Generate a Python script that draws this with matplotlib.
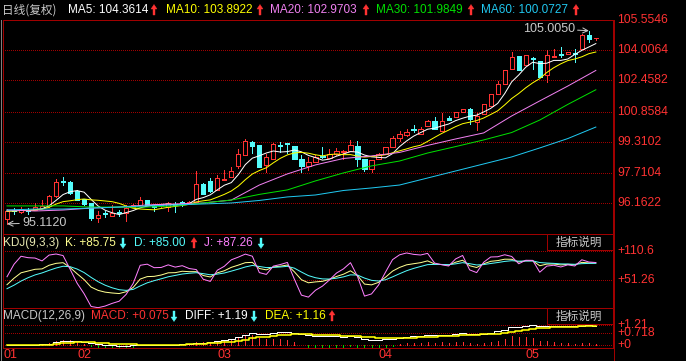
import matplotlib
matplotlib.use('Agg')
import matplotlib.pyplot as plt
import matplotlib.transforms as mtransforms
from matplotlib.patches import Rectangle, Polygon
import numpy as np
import pandas as pd

W, H = 686, 361
RED = '#ff3232'
CYAN = '#54fcfc'
BORDER = '#a00000'
GRID = '#a00000'
GRAY = '#c8c8c8'
PX = 0.72  # 1 pixel in points at dpi 100

# daily candles
opens = [95.36, 95.82, 95.72, 95.82, 95.82, 95.92, 96.03, 96.54, 97.31, 97.26,
         96.79, 96.38, 96.18, 95.41, 95.67, 95.51, 95.72, 95.67, 95.97, 96.08,
         96.33, 96.03, 96.03, 95.97, 96.13, 96.23, 96.13, 96.23, 97.15, 97.31,
         96.85, 97.36, 97.51, 98.08, 98.64, 99.30, 99.15, 98.13, 98.43, 99.15,
         99.25, 99.10, 98.43, 98.08, 98.28, 98.59, 98.49, 98.69, 98.79, 98.84,
         99.10, 98.43, 97.92, 98.43, 98.69, 99.05, 99.51, 99.66, 99.97, 99.71,
         100.12, 100.38, 99.87, 100.53, 100.59, 100.84, 101.00, 100.33, 100.74, 101.15,
         101.76, 102.28, 103.04, 103.71, 103.25, 103.61, 103.45, 102.74, 103.66, 103.81,
         103.81, 103.86, 104.07, 104.79, 104.62]
closes = [95.77, 95.77, 95.87, 95.77, 95.97, 96.03, 96.54, 97.26, 97.26, 96.69,
          96.33, 96.13, 95.41, 95.56, 95.62, 95.67, 95.67, 95.92, 96.08, 96.33,
          96.08, 95.97, 96.08, 96.18, 96.08, 96.18, 96.23, 97.15, 96.64, 96.79,
          97.46, 97.41, 97.82, 98.69, 99.36, 99.10, 98.02, 98.54, 99.20, 99.10,
          99.20, 98.43, 98.08, 98.28, 98.54, 98.54, 98.69, 98.84, 98.84, 99.15,
          98.43, 97.92, 98.38, 98.69, 99.05, 99.51, 99.71, 99.82, 99.92, 99.97,
          100.38, 99.97, 100.38, 100.43, 100.84, 101.00, 100.48, 100.64, 101.25, 101.76,
          102.28, 102.99, 103.66, 102.99, 103.76, 103.56, 102.63, 103.76, 103.71, 103.76,
          103.92, 103.81, 104.79, 104.58, 104.63]
highs = [95.87, 95.92, 95.97, 95.92, 96.18, 96.33, 96.59, 97.41, 97.51, 97.31,
         96.85, 96.38, 96.18, 95.77, 95.77, 96.08, 95.82, 96.08, 96.13, 96.49,
         96.33, 96.08, 96.13, 96.23, 96.23, 96.28, 96.28, 97.82, 97.20, 97.46,
         97.61, 97.87, 98.02, 98.95, 99.46, 99.36, 99.15, 98.69, 99.25, 99.30,
         99.25, 99.10, 98.64, 98.54, 98.64, 99.05, 98.95, 99.00, 98.89, 99.41,
         99.36, 98.43, 98.38, 98.74, 99.05, 99.61, 99.87, 99.97, 100.18, 100.07,
         100.43, 100.59, 100.79, 100.64, 100.84, 101.00, 101.05, 100.79, 101.25, 101.76,
         102.43, 102.99, 103.92, 103.71, 103.76, 103.66, 103.45, 104.02, 104.07, 104.17,
         103.92, 104.07, 104.84, 105.005, 104.63]
lows = [95.112, 95.62, 95.67, 95.62, 95.82, 95.92, 95.97, 96.49, 97.10, 96.64,
        96.33, 96.08, 95.31, 95.21, 95.46, 95.51, 95.51, 95.26, 95.97, 96.08,
        96.08, 95.77, 95.97, 95.77, 95.72, 96.03, 96.13, 96.23, 96.64, 96.74,
        96.85, 97.36, 97.51, 97.97, 98.64, 98.74, 98.02, 97.77, 98.43, 98.79,
        98.74, 98.43, 97.77, 97.87, 98.28, 98.49, 98.49, 98.64, 98.43, 98.84,
        98.08, 97.82, 97.77, 98.43, 98.69, 99.05, 99.36, 99.61, 99.82, 99.71,
        100.12, 99.97, 99.87, 100.43, 100.59, 100.84, 100.23, 99.92, 100.74, 101.15,
        101.76, 102.28, 103.04, 102.99, 103.25, 103.04, 102.63, 102.38, 103.66, 103.66,
        103.81, 103.40, 104.07, 104.43, 104.53]

# long moving averages, read every 4th bar
ma_idx = list(range(0, 85, 4))
ma20 = [95.82, 95.77, 95.82, 95.92, 95.97, 96.08, 96.13, 96.18, 96.33, 97.10, 97.67,
        98.13, 98.46, 98.59, 98.77, 99.13, 99.46, 99.77, 100.64, 101.41, 102.17, 102.97]
ma30 = [96.03, 96.03, 96.03, 95.97, 95.97, 95.97, 96.03, 96.18, 96.33, 96.62, 96.85,
        97.31, 97.72, 98.08, 98.33, 98.74, 99.07, 99.41, 99.79, 100.43, 101.23, 101.98]
ma60 = [95.82, 95.87, 95.87, 95.92, 95.97, 96.03, 96.08, 96.13, 96.18, 96.31, 96.49,
        96.59, 96.82, 96.95, 97.10, 97.46, 97.82, 98.18, 98.54, 99.00, 99.48, 100.07]

month_labels = ['01', '02', '03', '04', '05']
month_idx = [0, 10, 30, 53, 74]

price_ticks = [105.5546, 104.0064, 102.4582, 100.8584, 99.3102, 97.7104, 96.1622]
kdj_ticks = [110.6, 51.26, -8.08]
kdj_tick_text = ['+110.6', '+51.26']
macd_ticks = [1.21, 0.718, 0]
macd_tick_text = ['+1.21', '+0.718', '+0']

kdj_start = (40.8, 32.5)  # K, D at the first bar

o = np.array(opens); c = np.array(closes); hi = np.array(highs); lo = np.array(lows)
n = len(c)
idx = np.arange(n)
cs = pd.Series(c)
ma5 = cs.rolling(5, min_periods=1).mean()
ma10 = cs.rolling(10, min_periods=1).mean()

# KDJ(9,3,3)
llv = pd.Series(lo).rolling(9, min_periods=1).min().values
hhv = pd.Series(hi).rolling(9, min_periods=1).max().values
rsv = (c - llv) / (hhv - llv) * 100
K = [kdj_start[0]]; D = [kdj_start[1]]
for i in range(1, n):
    K.append(2 / 3 * K[-1] + rsv[i] / 3)
    D.append(2 / 3 * D[-1] + K[-1] / 3)
K = np.array(K); D = np.array(D); J = 3 * K - 2 * D

# MACD(12,26,9)
diff = cs.ewm(span=12, adjust=False).mean() - cs.ewm(span=26, adjust=False).mean()
dea = diff.ewm(span=9, adjust=False).mean()
hist = 2 * (diff - dea)

fig = plt.figure(figsize=(W / 100, H / 100), dpi=100)
fig.patch.set_facecolor('black')


def add_ax(x0, y0, x1, y1):
    ax = fig.add_axes([x0 / W, 1 - y1 / H, (x1 - x0) / W, (y1 - y0) / H])
    ax.set_facecolor('black')
    ax.set_xticks([]); ax.set_yticks([])
    for s in ax.spines.values():
        s.set_color(BORDER); s.set_linewidth(PX)
    ax.set_xlim(-0.57, 86.45)
    return ax


ax = add_ax(3, 20, 613, 234)
ax_k = add_ax(3, 234, 613, 308)
ax_m = add_ax(3, 308, 613, 348)
ax.set_ylim(94.591, 105.5546)
ax_k.set_ylim(-7.87, 146.75)
ax_m.set_ylim(-0.18, 2.24)

# dotted grid, drawn crisp
dots = (0, (1, 2))
for a, ticks in [(ax, price_ticks[1:]), (ax_k, kdj_ticks), (ax_m, macd_ticks)]:
    for t in ticks:
        a.axhline(t, color=GRID, lw=PX, ls=dots, antialiased=False)

# candles
w = 0.6
for i in range(n):
    up = c[i] >= o[i]
    col = RED if up else CYAN
    top, bot = max(o[i], c[i]), min(o[i], c[i])
    ax.vlines(i, top, hi[i], color=col, lw=PX, antialiased=False)
    ax.vlines(i, lo[i], bot, color=col, lw=PX, antialiased=False)
    ax.add_patch(Rectangle((i - w / 2, bot), w, top - bot, facecolor='black' if up else CYAN,
                           edgecolor=col, lw=PX, zorder=2, antialiased=False))

ax.plot(idx, ma5, color='white', lw=PX, zorder=3)
ax.plot(idx, ma10, color='#ffff00', lw=PX, zorder=3)
ax.plot(ma_idx, ma20, color='#f080f0', lw=PX, zorder=3)
ax.plot(ma_idx, ma30, color='#00e000', lw=PX, zorder=3)
ax.plot(ma_idx, ma60, color='#20c8f0', lw=PX, zorder=3)

il = int(np.argmin(lo)); ih = int(np.argmax(hi))
ax.annotate(f'{lo[il]:.4f}', xy=(il, lo[il]), xytext=(15, 1), textcoords='offset pixels',
            color=GRAY, fontsize=9, family='Liberation Sans', va='center', ha='left',
            arrowprops=dict(arrowstyle='->', color=GRAY, lw=PX, shrinkA=0, shrinkB=0))
ax.annotate(f'{hi[ih]:.4f}', xy=(ih, hi[ih]), xytext=(-14, 2), textcoords='offset pixels',
            color=GRAY, fontsize=9, family='Liberation Sans', va='center', ha='right',
            arrowprops=dict(arrowstyle='->', color=GRAY, lw=PX, shrinkA=0, shrinkB=0))

# KDJ
ax_k.plot(idx, K, color='#ffff90', lw=PX)
ax_k.plot(idx, D, color=CYAN, lw=PX)
ax_k.plot(idx, J, color='#ff80ff', lw=PX)

# MACD
bar_col = np.where(hist >= 0, RED, '#00d000')
ax_m.vlines(idx, 0, hist, colors=bar_col, lw=PX, antialiased=False)
ax_m.plot(idx, diff, color='white', lw=PX, drawstyle='steps-mid')
ax_m.plot(idx, dea, color='#ffff00', lw=1.6 * PX, drawstyle='steps-mid')

# right axis labels
for a, ticks, texts in [(ax, price_ticks, [f'{t:.4f}' for t in price_ticks]),
                        (ax_k, kdj_ticks[:2], kdj_tick_text),
                        (ax_m, macd_ticks, macd_tick_text)]:
    tr = mtransforms.blended_transform_factory(fig.transFigure, a.transData)
    for t, s in zip(ticks, texts):
        a.text(617 / W, t, s, transform=tr, color=RED, fontsize=8.8,
               family='Liberation Sans', va='center', ha='left', clip_on=False)

# frame lines outside the panels
fig.add_artist(plt.Line2D([613.5 / W] * 2, [0, 1 - 20 / H], color=BORDER, lw=PX))
fig.add_artist(plt.Line2D([0.5 / W] * 2, [0, 1 - 20 / H], color='#808080', lw=PX))

# month labels
trx = mtransforms.blended_transform_factory(ax_m.transData, fig.transFigure)
for lab, mi in zip(month_labels, month_idx):
    xpos = mi if mi > 0 else -0.5
    ax_m.text(xpos, 1 - 355 / H, lab, transform=trx, color=RED, fontsize=9,
              family='Liberation Sans', va='center', ha='left', clip_on=False)


# header texts
def put(x, y, s, color, fam='Liberation Sans', size=8.5, **kw):
    fig.text(x / W, 1 - y / H, s, color=color, fontsize=size, family=fam,
             va='center', ha='left', **kw)


def arrow(x, y, up):
    # thick arrow glyph: triangle head and a 2px stem, in pixel units (y down)
    col = RED if up else CYAN
    s = 1 if up else -1
    head = [(x - 3, y - 1 * s), (x + 3, y - 1 * s), (x, y - 5.5 * s)]
    stem = [(x - 1, y - 1 * s), (x + 1, y - 1 * s), (x + 1, y + 5 * s), (x - 1, y + 5 * s)]
    for pts in (head, stem):
        fig.add_artist(Polygon([(px / W, 1 - py / H) for px, py in pts], closed=True,
                               transform=fig.transFigure, facecolor=col, edgecolor=col,
                               lw=0.3))


put(2, 10, '日线(复权)', GRAY, fam=['Noto Sans CJK SC', 'DejaVu Sans'], size=8.4)
head = [(68, 'MA5: 104.3614', 'white', 154), (166, 'MA10: 103.8922', '#ffff00', 260),
        (270, 'MA20: 102.9703', '#f080f0', 366), (376, 'MA30: 101.9849', '#00e000', 471),
        (481, 'MA60: 100.0727', '#20c8f0', 576)]
for x, s, col, xa in head:
    put(x, 10, s, col)
    arrow(xa, 10, True)

put(3, 243, 'KDJ(9,3,3)', '#e8e8b0')
put(65, 243, 'K: +85.75', '#ffff90')
arrow(123, 243, False)
put(134, 243, 'D: +85.00', CYAN)
arrow(194, 243, True)
put(204, 243, 'J: +87.26', '#ff80ff')
arrow(261, 243, False)

put(3, 316, 'MACD(12,26,9)', GRAY)
put(91, 316, 'MACD: +0.075', RED)
arrow(174, 316, False)
put(185, 316, 'DIFF: +1.19', 'white')
arrow(254, 316, False)
put(265, 316, 'DEA: +1.16', '#ffff00')
arrow(332, 316, True)

# "指标说明" boxes
for y0 in (234, 308):
    fig.add_artist(Rectangle((547 / W, 1 - (y0 + 16) / H), 66 / W, 16 / H,
                             transform=fig.transFigure, facecolor='black',
                             edgecolor=BORDER, lw=PX))
    put(556, y0 + 8.5, '指标说明', GRAY, fam=['Noto Sans CJK SC', 'DejaVu Sans'], size=8.4)

fig.savefig('out.png', dpi=100, facecolor='black')
